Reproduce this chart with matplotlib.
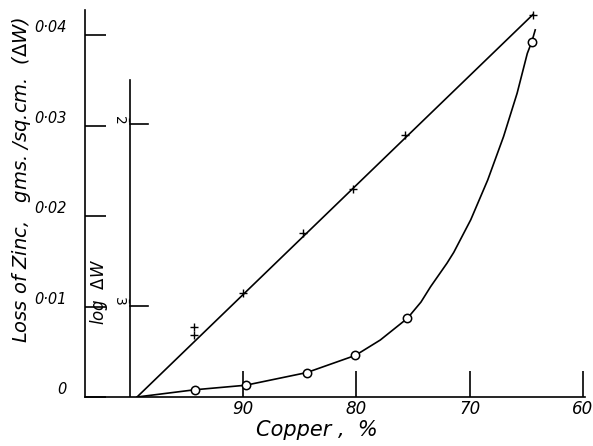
# ===================
# Part 1: Importing Libraries
# ===================
import matplotlib.pyplot as plt

# ===================
# Part 2: Data Preparation
# ===================
# Loss of zinc (crosses) - straight line
cross_copper = [94.4, 94.4, 90.0, 84.7, 80.3, 75.7, 64.4]
cross_loss = [0.0077, 0.0069, 0.0115, 0.0181, 0.0230, 0.0290, 0.0423]
line_copper = [99.4, 64.4]
line_loss = [0.0, 0.0423]

# log(dW) (circles)
circle_copper = [94.3, 89.8, 84.4, 80.1, 75.5, 64.5]
circle_loss = [0.0008, 0.0013, 0.0027, 0.0046, 0.0087, 0.0393]
# hand-drawn curve through the circles
curve_copper = [99.4, 94.3, 89.8, 84.4, 80.1, 77.9, 75.5, 74.3, 73.45,
                72.0, 71.4, 69.9, 68.4, 67.0, 65.8, 64.9, 64.5, 64.2]
curve_loss = [0.0, 0.0008, 0.0013, 0.0027, 0.0046, 0.0063, 0.0087, 0.0105,
              0.0122, 0.0148, 0.0160, 0.0196, 0.0240, 0.0288, 0.0336,
              0.0380, 0.0393, 0.0406]

x_ticks = [90, 80, 70, 60]
y_ticks = [0, 0.01, 0.02, 0.03, 0.04]
y_labels = ["0", "0·01", "0·02", "0·03", "0·04"]
log_ticks = [0.0302, 0.0101]
log_labels = [r"$\bar{2}$", r"$\bar{3}$"]

# ===================
# Part 3: Plot Configuration and Rendering
# ===================
plt.rcParams["font.family"] = "DejaVu Sans"
fig = plt.figure(figsize=(5.93, 4.46), dpi=100)
ax = fig.add_axes([85 / 593, 49 / 446, 500 / 593, 387 / 446])

ax.set_xlim(104.0, 59.8)
ax.set_ylim(0, 0.0428)

# straight line with crosses
ax.plot(line_copper, line_loss, color="black", lw=1.2)
ax.plot(cross_copper, cross_loss, ls="none", marker="+", ms=6,
        mew=1.0, color="black")

# curve with open circles
ax.plot(curve_copper, curve_loss, color="black", lw=1.2)
ax.plot(circle_copper, circle_loss, ls="none", marker="o", ms=6,
        mfc="white", mec="black", mew=1.1)

# spines
for side in ["top", "right"]:
    ax.spines[side].set_visible(False)
for side in ["left", "bottom"]:
    ax.spines[side].set_linewidth(1.2)

# left axis ticks (inward)
ax.set_yticks(y_ticks)
ax.set_yticklabels(y_labels, fontsize=10.5, style="italic")
ax.tick_params(axis="y", direction="in", length=15, width=1.2, pad=13)
for lbl in ax.get_yticklabels():
    lbl.set_verticalalignment("bottom")

# bottom axis ticks (inward)
ax.set_xticks(x_ticks)
ax.set_xticklabels([str(t) for t in x_ticks], fontsize=12, style="italic")
ax.tick_params(axis="x", direction="in", length=19, width=1.2, pad=2)

# secondary log axis at 100 % copper
ax.plot([100, 100], [0, 0.0351], color="black", lw=1.2)
for yv, lab in zip(log_ticks, log_labels):
    ax.plot([100, 98.4], [yv, yv], color="black", lw=1.2)
    ax.text(100.9, yv + 0.0006, lab, rotation=-90, fontsize=10,
            ha="center", va="center")
ax.text(102.8, 0.0116, r"log  $\Delta W$", rotation=90, fontsize=12,
        style="italic", ha="center", va="center")

# axis labels
ax.set_xlabel("Copper ,  %", fontsize=15, style="italic", va="center")
ax.xaxis.set_label_coords(0.464, -0.085)
ax.set_ylabel(r"Loss of Zinc,   gms. /sq.cm.  ($\Delta W$)", fontsize=14,
              style="italic", va="center")
ax.yaxis.set_label_coords(-0.126, 0.561)

# ===================
# Part 4: Saving Output
# ===================
fig.savefig("out.png", dpi=100)
